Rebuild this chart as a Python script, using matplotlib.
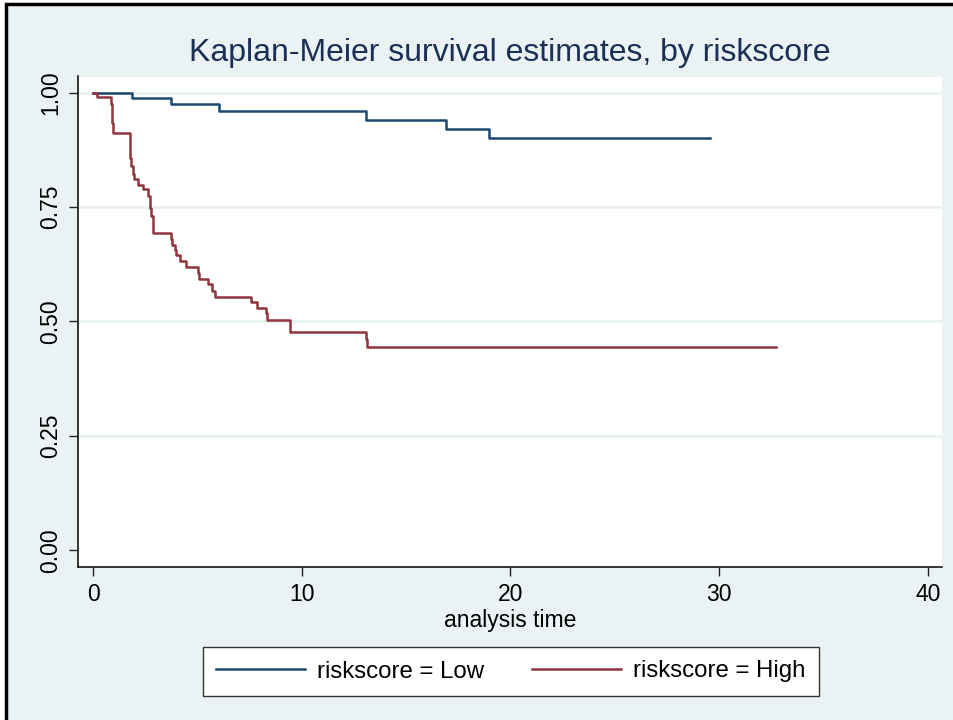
import matplotlib
matplotlib.use('Agg')
import matplotlib.pyplot as plt
from matplotlib.patches import Rectangle

# Kaplan-Meier step points (time, survival)
low_time = [0, 1.85, 3.75, 6.06, 13.08, 16.93, 18.96, 29.57]
low_surv = [1.0, 0.987, 0.974, 0.959, 0.941, 0.921, 0.901, 0.901]

high_time = [0, 0.19, 0.84, 0.90, 0.94, 1.78, 1.84, 1.90, 1.97, 2.17, 2.40,
             2.64, 2.72, 2.80, 2.88, 3.72, 3.80, 3.92, 4.00, 4.16, 4.44,
             5.03, 5.10, 5.51, 5.70, 5.83, 7.56, 7.86, 8.28, 8.34, 9.46,
             13.06, 13.15, 32.72]
high_surv = [1.0, 0.991, 0.975, 0.934, 0.912, 0.858, 0.840, 0.821, 0.810,
             0.798, 0.789, 0.774, 0.747, 0.730, 0.694, 0.679, 0.667, 0.656,
             0.645, 0.632, 0.618, 0.605, 0.593, 0.581, 0.566, 0.554, 0.542,
             0.530, 0.518, 0.503, 0.476, 0.461, 0.445, 0.445]

x_ticks = [0, 10, 20, 30, 40]
y_ticks = [0.0, 0.25, 0.5, 0.75, 1.0]
y_labels = ['0.00', '0.25', '0.50', '0.75', '1.00']

BG = '#eaf2f3'
BLUE = '#1a476f'
RED = '#90353b'

plt.rcParams['font.family'] = ['Liberation Sans', 'DejaVu Sans']

fig = plt.figure(figsize=(9.54, 7.2), dpi=100, facecolor='white')
# outer frame: black edge on the left and top, light background inside
frame = Rectangle((6.5 / 954, -0.05), 1.1, (720 - 4) / 720 + 0.05,
                  transform=fig.transFigure, facecolor=BG,
                  edgecolor='black', linewidth=2.5, zorder=-10)
fig.patches.append(frame)

ax = fig.add_axes([78 / 954, 1 - 566.7 / 720, (941.7 - 78) / 954, (566.7 - 76.5) / 720])
ax.set_zorder(1)
ax.set_facecolor('white')

ax.step(low_time, low_surv, where='post', color=BLUE, lw=1.8, label='riskscore = Low')
ax.step(high_time, high_surv, where='post', color=RED, lw=1.8, label='riskscore = High')

ax.set_xlim(-0.72, 40.67)
ax.set_ylim(-0.036, 1.035)
ax.set_xticks(x_ticks)
ax.set_yticks(y_ticks)
ax.set_yticklabels(y_labels, rotation=90, va='center')

for y in y_ticks[1:]:
    ax.axhline(y, color=BG, lw=2.2, zorder=0)

for side in ['top', 'right']:
    ax.spines[side].set_visible(False)
for side in ['left', 'bottom']:
    ax.spines[side].set_linewidth(1.1)
    ax.spines[side].set_color('black')

ax.tick_params(axis='both', direction='out', length=6.3, width=1, color='#222222',
               labelsize=16.5)
ax.tick_params(axis='y', pad=5)
ax.tick_params(axis='x', pad=5.5)

ax.set_xlabel('analysis time', fontsize=16.5, va='center')
ax.xaxis.set_label_coords(0.5, -(620 - 566.7) / 490.2)

fig.text(510 / 954, 1 - 53 / 720, 'Kaplan-Meier survival estimates, by riskscore',
         ha='center', va='center', fontsize=23, color='#1c2f55')

leg = ax.legend(loc='center', bbox_to_anchor=(511 / 954, 1 - 671.5 / 720),
                bbox_transform=fig.transFigure, ncol=2, fontsize=17.3,
                handlelength=3.7, handletextpad=0.5, columnspacing=2.0,
                borderpad=0.55, fancybox=False, framealpha=1,
                edgecolor='#333333')
leg.get_frame().set_linewidth(1.0)

fig.savefig('out.png', dpi=100, facecolor=fig.get_facecolor())
